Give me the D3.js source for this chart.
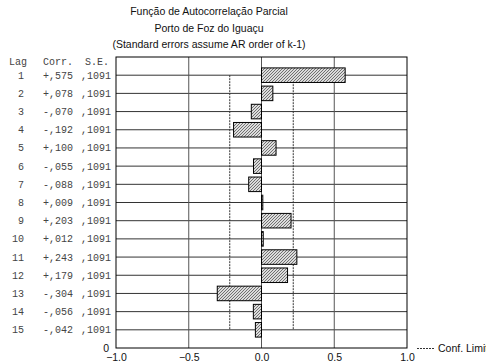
<html>
<head>
    <meta charset="UTF-8">
    <title>Função de Autocorrelação Parcial</title>
    <script src="https://cdn.jsdelivr.net/npm/d3@7"></script>
    <style>
        body { margin: 0; background: #fff; }
        .mono { font-family: "Liberation Mono", "DejaVu Sans Mono", monospace; font-size: 10px; fill: #444; }
        .sans { font-family: "Liberation Sans", Arial, sans-serif; font-size: 10.5px; fill: #111; }
    </style>
</head>
<body>
    <svg width="486" height="364"></svg>
    <script>
        // dados
        var lags = [1, 2, 3, 4, 5, 6, 7, 8, 9, 10, 11, 12, 13, 14, 15];
        var corr = [0.575, 0.078, -0.070, -0.192, 0.100, -0.055, -0.088, 0.009, 0.203, 0.012, 0.243, 0.179, -0.304, -0.056, -0.042];
        var stdErr = [0.1091, 0.1091, 0.1091, 0.1091, 0.1091, 0.1091, 0.1091, 0.1091, 0.1091, 0.1091, 0.1091, 0.1091, 0.1091, 0.1091, 0.1091];
        var xTicks = [-1.0, -0.5, 0.0, 0.5, 1.0];
        var titleLines = ['Função de Autocorrelação Parcial', 'Porto de Foz do Iguaçu', '(Standard errors assume AR order of k-1)'];

        var svg = d3.select('svg'),
            plot = { left: 116, right: 407, top: 57, bottom: 348 };

        var x = d3.scaleLinear().domain([-1, 1]).range([plot.left, plot.right]),
            y = d3.scaleLinear().domain([0, lags.length + 1]).range([plot.top, plot.bottom]),
            barH = (y(1) - y(0)) * 0.8;

        // formato tipo ",575" com sinal
        var fmtCorr = v => (v < 0 ? '-' : '+') + ',' + d3.format('.3f')(Math.abs(v)).slice(2),
            fmtSE = v => ',' + d3.format('.4f')(v).slice(2);

        var defs = svg.append('defs');
        var pat = defs.append('pattern')
            .attr('id', 'hatch')
            .attr('patternUnits', 'userSpaceOnUse')
            .attr('width', 3).attr('height', 3);
        pat.append('rect').attr('width', 3).attr('height', 3).attr('fill', '#dcdcdc');
        pat.append('path').attr('d', 'M-1,1 l2,-2 M0,3 l3,-3 M2,4 l2,-2')
            .attr('stroke', '#555').attr('stroke-width', 0.8);

        // titulo
        svg.selectAll('.title').data(titleLines).enter()
            .append('text').attr('class', 'sans title')
            .attr('x', 209).attr('y', (d, i) => 15 + i * 16.5)
            .attr('text-anchor', 'middle')
            .text(d => d);

        // grade horizontal
        svg.append('g').selectAll('line').data(lags).enter()
            .append('line')
            .attr('x1', plot.left).attr('x2', plot.right)
            .attr('y1', d => y(d)).attr('y2', d => y(d))
            .attr('stroke', '#333').attr('stroke-width', 1);

        // grade vertical
        svg.append('g').selectAll('line').data([-0.5, 0, 0.5]).enter()
            .append('line')
            .attr('x1', d => x(d)).attr('x2', d => x(d))
            .attr('y1', plot.top).attr('y2', plot.bottom)
            .attr('stroke', '#555').attr('stroke-width', 1);

        // limites de confiança (2 * erro padrao)
        var conf = 2 * d3.mean(stdErr);
        svg.append('g').selectAll('line').data([-conf, conf]).enter()
            .append('line')
            .attr('x1', d => x(d)).attr('x2', d => x(d))
            .attr('y1', y(lags[0])).attr('y2', y(lags[lags.length - 1]))
            .attr('stroke', '#333').attr('stroke-dasharray', '2,1');

        // barras
        svg.append('g').selectAll('rect').data(corr).enter()
            .append('rect')
            .attr('x', d => x(Math.min(0, d)))
            .attr('width', d => Math.max(1, Math.abs(x(d) - x(0))))
            .attr('y', (d, i) => y(lags[i]) - barH / 2)
            .attr('height', barH)
            .attr('fill', 'url(#hatch)')
            .attr('stroke', '#000').attr('stroke-width', 1);

        // moldura
        svg.append('rect')
            .attr('x', plot.left).attr('y', plot.top)
            .attr('width', plot.right - plot.left).attr('height', plot.bottom - plot.top)
            .attr('fill', 'none').attr('stroke', '#000').attr('stroke-width', 1);

        // eixo x
        var xAxis = svg.append('g')
            .attr('transform', 'translate(0,' + plot.bottom + ')')
            .call(d3.axisBottom(x).tickValues(xTicks).tickFormat(d3.format('.1f')).tickSize(0).tickPadding(6));
        xAxis.select('.domain').remove();
        xAxis.selectAll('text').attr('class', 'sans').attr('font-family', null).attr('font-size', null).attr('fill', null);

        svg.append('text').attr('class', 'sans')
            .attr('x', 109).attr('y', plot.bottom + 3.5)
            .attr('text-anchor', 'end').text('0');

        // tabela da esquerda
        var head = svg.append('g').attr('class', 'mono');
        head.append('text').attr('x', 9).attr('y', 65).text('Lag');
        head.append('text').attr('x', 73).attr('y', 65).attr('text-anchor', 'end').text('Corr.');
        head.append('text').attr('x', 109).attr('y', 65).attr('text-anchor', 'end').text('S.E.');

        var rows = svg.append('g').selectAll('g').data(lags).enter()
            .append('g').attr('class', 'mono')
            .attr('transform', d => 'translate(0,' + (y(d) + 3.5) + ')');
        rows.append('text').attr('x', 24).attr('text-anchor', 'end').text(d => d);
        rows.append('text').attr('x', 73).attr('text-anchor', 'end').text((d, i) => fmtCorr(corr[i]));
        rows.append('text').attr('x', 111).attr('text-anchor', 'end').text((d, i) => fmtSE(stdErr[i]));

        // legenda
        svg.append('line')
            .attr('x1', 417).attr('x2', 434)
            .attr('y1', plot.bottom + 0.5).attr('y2', plot.bottom + 0.5)
            .attr('stroke', '#333').attr('stroke-dasharray', '2,1');
        svg.append('text').attr('class', 'sans')
            .attr('x', 438).attr('y', plot.bottom + 4)
            .text('Conf. Limits');
    </script>
</body>
</html>
